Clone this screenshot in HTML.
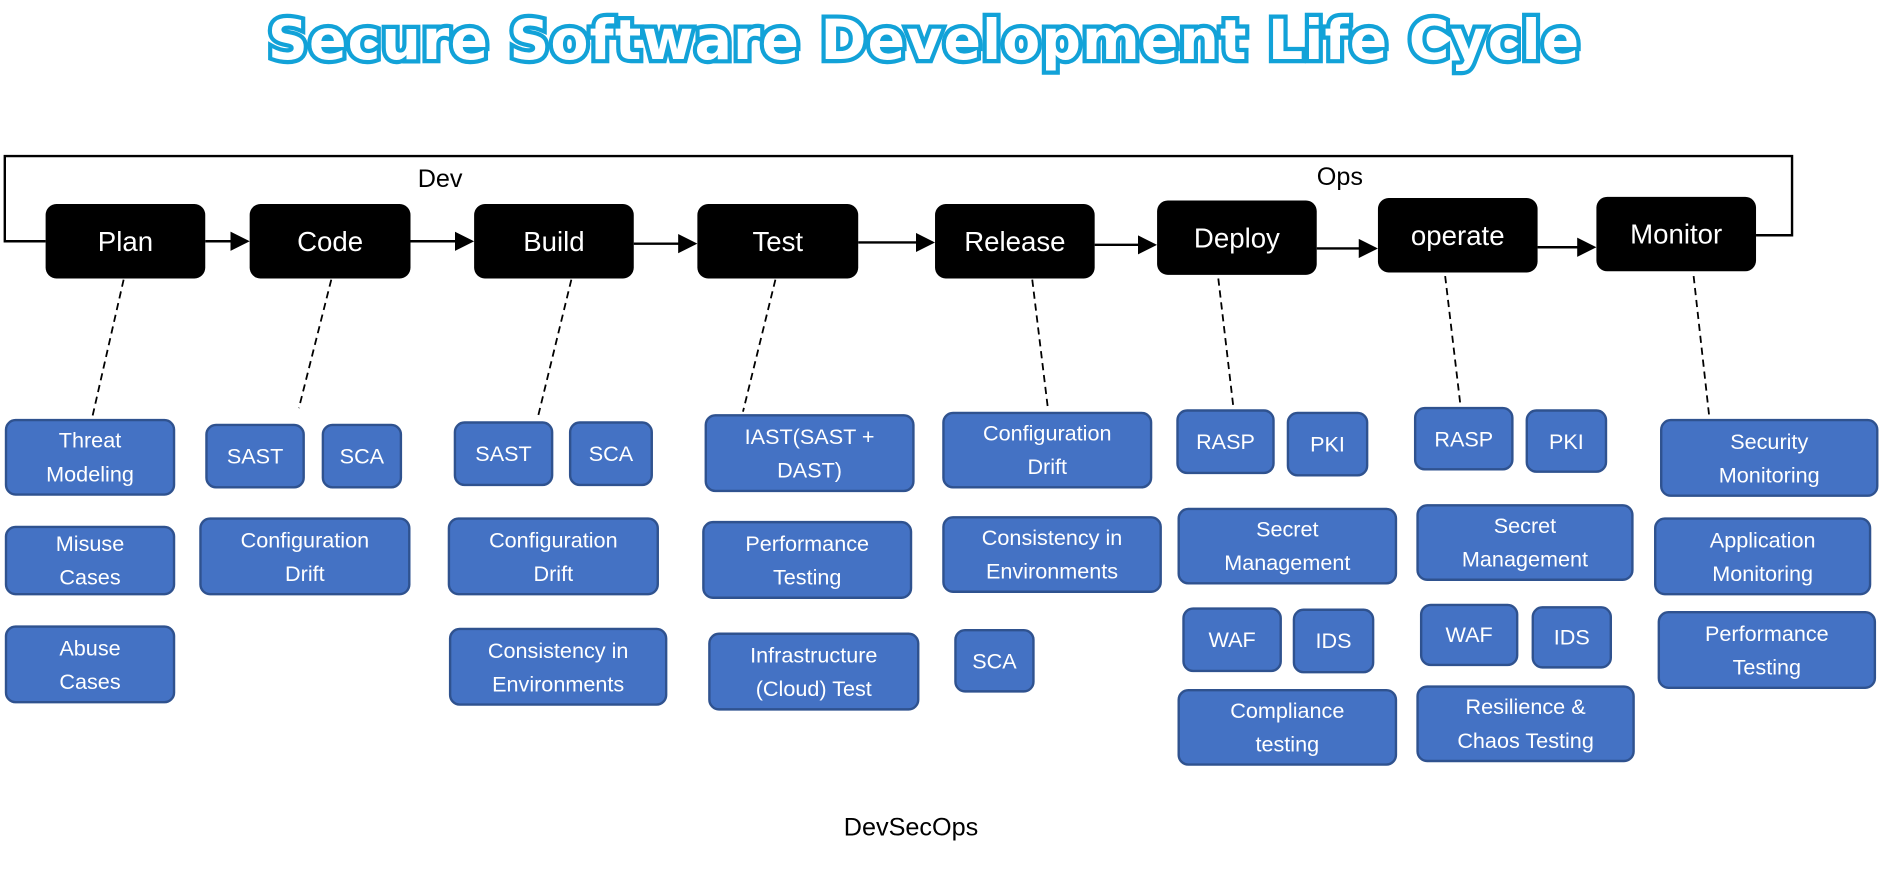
<!DOCTYPE html>
<html><head><meta charset="utf-8"><style>
html,body{margin:0;padding:0;background:#fff;}
body{width:1882px;height:874px;overflow:hidden;position:relative;}
#c{position:absolute;left:0;top:0;width:1568px;height:728px;transform:scale(1.2003);transform-origin:0 0;font-family:"Liberation Sans",sans-serif;}
.k{position:absolute;background:#000;color:#fff;border-radius:9px;display:flex;align-items:center;justify-content:center;font-size:23px;}
.b{position:absolute;background:#4472C4;border:2px solid #2F528F;box-sizing:border-box;border-radius:9px;color:#fff;display:flex;align-items:center;justify-content:center;text-align:center;font-size:18px;line-height:28px;}
.t{position:absolute;font-size:21px;color:#000;}
#title{position:absolute;left:0;width:1540px;top:6px;text-align:center;font-family:"DejaVu Sans","Liberation Sans",sans-serif;font-weight:bold;font-size:46px;color:#fff;-webkit-text-stroke:7px #12A2D8;paint-order:stroke fill;letter-spacing:1px;}
</style></head><body><div id="c">
<div id="title">Secure Software Development Life Cycle</div>
<svg width="1568" height="728" style="position:absolute;left:0;top:0">
<defs><marker id="a" markerWidth="8" markerHeight="8" refX="7" refY="4" orient="auto"><path d="M0,0 L8,4 L0,8z" fill="#000"/></marker></defs>
<g fill="none" stroke="#000" stroke-width="2">
<polyline points="38,201 4,201 4,130 1493,130 1493,196 1463,196"/>
<line x1="171" y1="201" x2="206" y2="201" marker-end="url(#a)"/>
<line x1="342" y1="201" x2="393" y2="201" marker-end="url(#a)"/>
<line x1="528" y1="203" x2="579" y2="203" marker-end="url(#a)"/>
<line x1="715" y1="202" x2="777" y2="202" marker-end="url(#a)"/>
<line x1="912" y1="204" x2="962" y2="204" marker-end="url(#a)"/>
<line x1="1097" y1="207" x2="1146" y2="207" marker-end="url(#a)"/>
<line x1="1281" y1="206" x2="1328" y2="206" marker-end="url(#a)"/>
</g>
<g stroke="#000" stroke-width="1.5" stroke-dasharray="6,4">
<line x1="103" y1="233" x2="77" y2="347"/>
<line x1="276" y1="233" x2="249" y2="340"/>
<line x1="476" y1="233" x2="448" y2="348"/>
<line x1="646" y1="233" x2="619" y2="343"/>
<line x1="860" y1="233" x2="873" y2="340"/>
<line x1="1015" y1="232" x2="1028" y2="343"/>
<line x1="1204" y1="230" x2="1217" y2="340"/>
<line x1="1411" y1="230" x2="1424" y2="347"/>
</g>
</svg>
<div class="t" style="left:348px;top:138px">Dev</div>
<div class="t" style="left:1097px;top:136px">Ops</div>
<div class="k" style="left:38px;top:170px;width:133px;height:62px">Plan</div>
<div class="k" style="left:208px;top:170px;width:134px;height:62px">Code</div>
<div class="k" style="left:395px;top:170px;width:133px;height:62px">Build</div>
<div class="k" style="left:581px;top:170px;width:134px;height:62px">Test</div>
<div class="k" style="left:779px;top:170px;width:133px;height:62px">Release</div>
<div class="k" style="left:964px;top:167px;width:133px;height:62px">Deploy</div>
<div class="k" style="left:1148px;top:165px;width:133px;height:62px">operate</div>
<div class="k" style="left:1330px;top:164px;width:133px;height:62px">Monitor</div>

<div class="b" style="left:4px;top:349px;width:142px;height:64px">Threat<br>Modeling</div>
<div class="b" style="left:4px;top:438px;width:142px;height:58px">Misuse<br>Cases</div>
<div class="b" style="left:4px;top:521px;width:142px;height:65px">Abuse<br>Cases</div>

<div class="b" style="left:171px;top:353px;width:83px;height:54px">SAST</div>
<div class="b" style="left:268px;top:353px;width:67px;height:54px">SCA</div>
<div class="b" style="left:166px;top:431px;width:176px;height:65px">Configuration<br>Drift</div>

<div class="b" style="left:378px;top:351px;width:83px;height:54px">SAST</div>
<div class="b" style="left:474px;top:351px;width:70px;height:54px">SCA</div>
<div class="b" style="left:373px;top:431px;width:176px;height:65px">Configuration<br>Drift</div>
<div class="b" style="left:374px;top:523px;width:182px;height:65px">Consistency in<br>Environments</div>

<div class="b" style="left:587px;top:345px;width:175px;height:65px">IAST(SAST +<br>DAST)</div>
<div class="b" style="left:585px;top:434px;width:175px;height:65px">Performance<br>Testing</div>
<div class="b" style="left:590px;top:527px;width:176px;height:65px">Infrastructure<br>(Cloud) Test</div>

<div class="b" style="left:785px;top:343px;width:175px;height:64px">Configuration<br>Drift</div>
<div class="b" style="left:785px;top:430px;width:183px;height:64px">Consistency in<br>Environments</div>
<div class="b" style="left:795px;top:524px;width:67px;height:53px">SCA</div>

<div class="b" style="left:980px;top:341px;width:82px;height:54px">RASP</div>
<div class="b" style="left:1072px;top:343px;width:68px;height:54px">PKI</div>
<div class="b" style="left:981px;top:423px;width:183px;height:64px">Secret<br>Management</div>
<div class="b" style="left:985px;top:506px;width:83px;height:54px">WAF</div>
<div class="b" style="left:1077px;top:507px;width:68px;height:54px">IDS</div>
<div class="b" style="left:981px;top:574px;width:183px;height:64px">Compliance<br>testing</div>

<div class="b" style="left:1178px;top:339px;width:83px;height:53px">RASP</div>
<div class="b" style="left:1271px;top:341px;width:68px;height:53px">PKI</div>
<div class="b" style="left:1180px;top:420px;width:181px;height:64px">Secret<br>Management</div>
<div class="b" style="left:1183px;top:503px;width:82px;height:52px">WAF</div>
<div class="b" style="left:1276px;top:505px;width:67px;height:52px">IDS</div>
<div class="b" style="left:1180px;top:571px;width:182px;height:64px">Resilience &amp;<br>Chaos Testing</div>

<div class="b" style="left:1383px;top:349px;width:182px;height:65px">Security<br>Monitoring</div>
<div class="b" style="left:1378px;top:431px;width:181px;height:65px">Application<br>Monitoring</div>
<div class="b" style="left:1381px;top:509px;width:182px;height:65px">Performance<br>Testing</div>

<div class="t" style="left:692px;top:678px;width:134px;text-align:center">DevSecOps</div>
</div></body></html>
